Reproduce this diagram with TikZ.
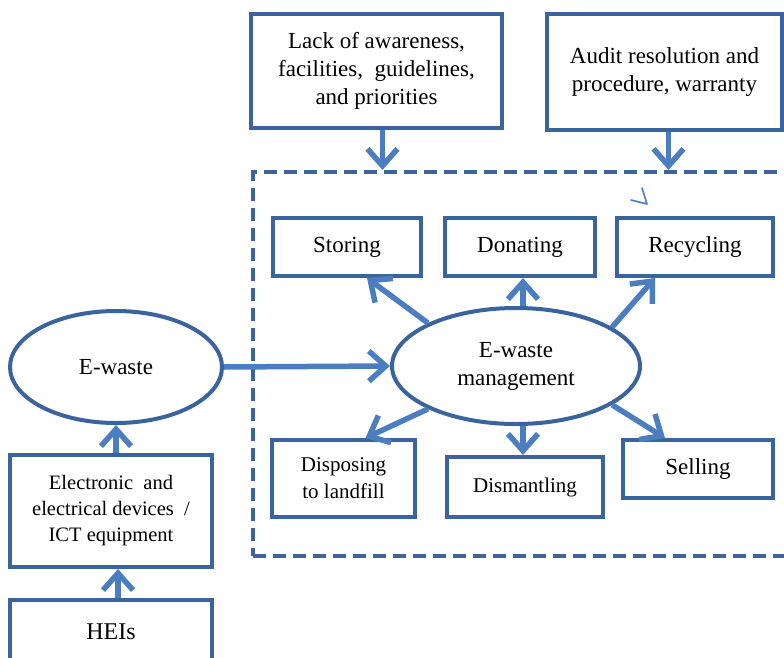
\documentclass[tikz,border=0pt]{standalone}
\usepackage{fontspec}
\setmainfont{Liberation Serif}
\usetikzlibrary{arrows.meta,shapes.geometric}
\definecolor{boxblue}{RGB}{58,100,158}
\definecolor{arrowblue}{RGB}{74,126,192}
\tikzset{
  box/.style={draw=boxblue, line width=4pt, rectangle, align=center, inner sep=2pt,
    font=\fontsize{23}{28}\selectfont},
  oval/.style={draw=boxblue, line width=4pt, ellipse, align=center, inner sep=0pt,
    font=\fontsize{23}{28}\selectfont},
  frame/.style={draw=boxblue, line width=4pt, rectangle, dash pattern=on 13pt off 7pt},
  flow/.style={draw=arrowblue, line width=5.5pt,
    -{Straight Barb[length=17pt,width=30pt,line width=5.5pt]}},
}
\begin{document}
\begin{tikzpicture}[x=1pt,y=-1pt]
\useasboundingbox (0,0) rectangle (784,658);
\clip (0,0) rectangle (784,658);
\fill[white] (0,0) rectangle (784,658);

% influences from above
\node[box, minimum width=251pt, minimum height=114pt] (lack) at (376.5,71)
  {Lack of awareness,\\facilities,\ \ guidelines,\\and priorities};
\node[box, minimum width=235pt, minimum height=116pt] (audit) at (664.5,72)
  {Audit resolution and\\procedure, warranty};

% dashed boundary of the management process
\node[frame, minimum width=560pt, minimum height=384pt] (frame) at (533,364) {};

% management options
\node[box, minimum width=148pt, minimum height=58pt] (storing) at (347,247) {Storing};
\node[box, minimum width=150pt, minimum height=58pt] (donating) at (520,247) {Donating};
\node[box, minimum width=156pt, minimum height=58pt] (recycling) at (695,247) {Recycling};
\node[box, minimum width=143pt, minimum height=77pt,
  font=\fontsize{21}{27}\selectfont] (disposing) at (343.5,478.5) {Disposing\\to landfill};
\node[box, minimum width=156pt, minimum height=60pt,
  font=\fontsize{21}{27}\selectfont] (dismantling) at (525,487) {Dismantling};
\node[box, minimum width=150pt, minimum height=58pt] (selling) at (698,469) {Selling};

\node[oval, minimum width=248pt, minimum height=116pt] (mgmt) at (516,366)
  {E-waste\\management};

% sources
\node[oval, minimum width=212pt, minimum height=112pt] (ewaste) at (116,367) {E-waste};
\node[box, minimum width=202pt, minimum height=112pt,
  font=\fontsize{20.5}{26}\selectfont] (devices) at (111,511)
  {Electronic\ \ and\\electrical devices\ \ /\\ICT equipment};
\node[box, minimum width=202pt, minimum height=80pt] (heis) at (111,640) {};
\node[font=\fontsize{24}{28}\selectfont] (heislabel) at (111,632) {HEIs};

% connectors
\draw[flow] ([xshift=6pt]lack.south) -- ([xshift=6pt]lack.south |- frame.north);
\draw[flow] ([xshift=4pt]audit.south) -- ([xshift=4pt]audit.south |- frame.north);

\draw[flow] ([xshift=7pt]heis.north) -- ([xshift=7pt]devices.south);
\draw[flow] ([xshift=5pt]devices.north) -- ([xshift=5pt]devices.north |- ewaste.south);
\draw[flow] (ewaste.east) -- (mgmt.west);

\draw[flow] (mgmt.154) -- ([xshift=20pt]storing.south);
\draw[flow] ([xshift=7pt]mgmt.north) -- ([xshift=7pt]mgmt.north |- donating.south);
\draw[flow] (mgmt.22) -- ([xshift=-40pt]recycling.south);
\draw[flow] (mgmt.206) -- ([xshift=22pt]disposing.north);
\draw[flow] ([xshift=7pt]mgmt.south) -- ([xshift=7pt]mgmt.south |- dismantling.north);
\draw[flow] (mgmt.-22) -- ([xshift=-33pt]selling.north);

% small stray tick above the recycling box
\coordinate (tickA) at (642,188);
\coordinate (tickB) at (647,204);
\coordinate (tickC) at (631,200);
\draw[arrowblue, line width=1.6pt, line cap=round, line join=round]
  (tickA) -- (tickB) -- (tickC);
\end{tikzpicture}
\end{document}
